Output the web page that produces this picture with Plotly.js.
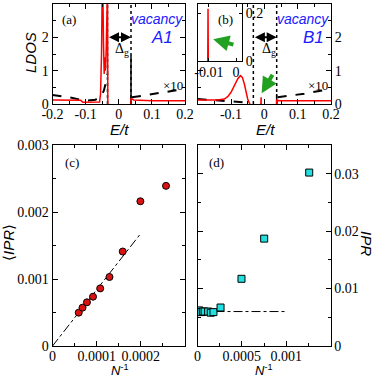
<!DOCTYPE html>
<html><head><meta charset="utf-8">
<script src="https://cdn.plot.ly/plotly-3.0.1.min.js"></script>
<style>html,body{margin:0;padding:0;background:#fff}#plot{width:374px;height:380px}</style>
</head><body><div id="plot"></div>
<script>
// ---------- data ----------
// panel (a): vacancy A1
const redA_E = [-0.2, -0.15, -0.115, -0.108, -0.1, -0.07, -0.058, -0.055, -0.052, -0.05, -0.048, -0.046, -0.044, -0.042, -0.04, -0.038, -0.036, -0.034, -0.033, null, 0.037, 0.037, 0.045, 0.1, 0.2];
const redA_L = [0.12, 0.12, 0.11, 0.05, 0.05, 0.05, 0.06, 0.3, 1.5, 3.5, 3.5, 1.8, 0.9, 1.4, 1.0, 1.6, 3.5, 3.5, 0, null, 0, 0.17, 0.12, 0.1, 0.1];
const dashA_E = [-0.2, -0.15, -0.1, -0.07, -0.055, -0.045, -0.04, -0.036, -0.034, null, 0.04, 0.08, 0.12, 0.16, 0.2];
const dashA_L = [0.27, 0.2, 0.1, 0.13, 0.22, 0.4, 0.6, 0.8, 0.9, null, 0.2, 0.27, 0.33, 0.39, 0.45];
const peakA_E = [0.037, 0.037];
const peakA_L = [0, 1.45];
const gapA = [-0.034, 0.037];
// panel (b): vacancy B1
const redB_E = [-0.2, -0.14, -0.12, -0.11, -0.1, -0.09, -0.08, -0.072, -0.066, -0.06, -0.055, -0.05, -0.046, -0.043, null, -0.0104, -0.0103, -0.0096, -0.0095, null, 0.037, 0.037, 0.045, 0.1, 0.2];
const redB_L = [0.12, 0.12, 0.15, 0.22, 0.35, 0.55, 0.75, 0.85, 0.8, 0.6, 0.35, 0.15, 0.05, 0, null, 0, 0.2, 0.2, 0, null, 0, 0.12, 0.1, 0.1, 0.1];
const dashB_E = [-0.2, -0.15, -0.1, -0.06, -0.04, null, 0.04, 0.08, 0.12, 0.16, 0.2];
const dashB_L = [0.15, 0.12, 0.08, 0.05, 0.02, null, 0.2, 0.25, 0.31, 0.38, 0.45];
const peakB_E = [0.037, 0.037];
const peakB_L = [0, 0.3];
const gapB = [-0.033, 0.037];
// inset of (b)
const inset_E = [-0.0104, -0.0103, -0.0102];
const inset_L = [0, 0.22, 0];
// panel (c): <IPR> vs 1/N
const invN_c = [5.94e-5, 6.8e-5, 7.8e-5, 9.17e-5, 1.08e-4, 1.29e-4, 1.59e-4, 1.99e-4, 2.57e-4];
const ipr_c = [0.000498, 0.000572, 0.000652, 0.000736, 0.00086, 0.00103, 0.00141, 0.00216, 0.00239];
const fit_c_x = [0, 0.0002];
const fit_c_y = [0, 0.00168];
// panel (d): IPR vs 1/N
const invN_d = [0.00002, 0.00004, 0.00006, 0.00008, 0.00012, 0.00015, 0.00018, 0.00026, 0.000496, 0.000752, 0.00126];
const ipr_d = [0.0062, 0.0059, 0.006, 0.006, 0.006, 0.0058, 0.0059, 0.0067, 0.0117, 0.0187, 0.0302];
const fit_d_x = [0, 0.001];
const fit_d_y = [0.006, 0.006];
// tick labels
const ldosTicks = [0, 1, 2, 3];
const eTicksA = [-0.2, -0.1, 0, 0.1, 0.2];
const eTextA = ['-0.2', '-0.1', '0', '0.1', '0.2'];
const eTicksB = [-0.1, 0, 0.1, 0.2];
const eTextB = ['-0.1', '0', '0.1', '0.2'];
const insetXTicks = [-0.01, 0];
const insetXText = ['-0.01', '0'];
const insetYTicks = [0, 0.2];
const cXTicks = [0, 0.0001, 0.0002];
const cXText = ['0', '0.0001', '0.0002'];
const cYTicks = [0, 0.001, 0.002, 0.003];
const cYText = ['0', '0.001', '0.002', '0.003'];
const dXTicks = [0, 0.0005, 0.001];
const dXText = ['0', '0.0005', '0.001'];
const dYTicks = [0, 0.01, 0.02, 0.03];
const dYText = ['0', '0.01', '0.02', '0.03'];

// ---------- helpers ----------
const W = 374, H = 380;
const px = v => v / W;
const py = v => 1 - v / H;
const SERIF = 'Liberation Serif, Times New Roman, Times, serif';
const tf = {family: SERIF, size: 14, color: 'black'};
function axis(o) {
  return Object.assign({
    showline: true, linecolor: 'black', linewidth: 1, mirror: 'ticks',
    ticks: 'inside', ticklen: 5, tickcolor: 'black', tickwidth: 1,
    showgrid: false, zeroline: false, tickfont: tf, fixedrange: true
  }, o);
}
const RED = '#ff0000';
const traces = [
  // (a)
  {x: gapA.flatMap(e => [e, e, null]), y: gapA.flatMap(() => [0, 3, null]), xaxis: 'x', yaxis: 'y', mode: 'lines', line: {color: 'black', width: 1.5, dash: 'dot'}},
  {x: dashA_E, y: dashA_L, xaxis: 'x', yaxis: 'y', mode: 'lines', line: {color: 'black', width: 2, dash: 'dash'}},
  {x: peakA_E, y: peakA_L, xaxis: 'x', yaxis: 'y', mode: 'lines', line: {color: 'black', width: 1.5}},
  {x: redA_E, y: redA_L, xaxis: 'x', yaxis: 'y', mode: 'lines', line: {color: RED, width: 1.5}},
  // (b)
  {x: gapB.flatMap(e => [e, e, null]), y: gapB.flatMap(() => [0, 3, null]), xaxis: 'x2', yaxis: 'y2', mode: 'lines', line: {color: 'black', width: 1.5, dash: 'dot'}},
  {x: dashB_E, y: dashB_L, xaxis: 'x2', yaxis: 'y2', mode: 'lines', line: {color: 'black', width: 2, dash: 'dash'}},
  {x: peakB_E, y: peakB_L, xaxis: 'x2', yaxis: 'y2', mode: 'lines', line: {color: 'black', width: 1.5}},
  {x: redB_E, y: redB_L, xaxis: 'x2', yaxis: 'y2', mode: 'lines', line: {color: RED, width: 1.5}},
  // inset
  {x: inset_E, y: inset_L, xaxis: 'x5', yaxis: 'y5', mode: 'lines', line: {color: RED, width: 1.5}},
  // (c)
  {x: fit_c_x, y: fit_c_y, xaxis: 'x3', yaxis: 'y3', mode: 'lines', line: {color: 'black', width: 1, dash: 'dashdot'}},
  {x: invN_c, y: ipr_c, xaxis: 'x3', yaxis: 'y3', mode: 'markers', marker: {color: '#dd1111', size: 7, line: {color: 'black', width: 1}}},
  // (d)
  {x: fit_d_x, y: fit_d_y, xaxis: 'x4', yaxis: 'y4', mode: 'lines', line: {color: 'black', width: 1, dash: 'dashdot'}},
  {x: invN_d, y: ipr_d, xaxis: 'x4', yaxis: 'y4', mode: 'markers', marker: {color: '#22e0e0', size: 7, symbol: 'square', line: {color: 'black', width: 1}}}
];

const ann = [];
function txt(x, y, text, font, extra) { ann.push(Object.assign({xref: 'paper', yref: 'paper', x: px(x), y: py(y), text, showarrow: false, font, xanchor: 'center', yanchor: 'middle'}, extra || {})); }
const serif13 = {family: SERIF, size: 13, color: 'black'};
const sansIt = {family: 'Liberation Sans', size: 15, color: 'black'};
const blue = '#2020ff';
txt(69, 20, '(a)', serif13);
txt(225, 20, '(b)', serif13);
txt(72, 162, '(c)', serif13);
txt(216, 162, '(d)', serif13);
txt(157, 19, '<i>vacancy</i>', {family: 'Liberation Sans', size: 14, color: blue});
txt(162, 38, '<i>A1</i>', {family: 'Liberation Sans', size: 17, color: blue});
txt(303, 19, '<i>vacancy</i>', {family: 'Liberation Sans', size: 14, color: blue});
txt(313, 38, '<i>B1</i>', {family: 'Liberation Sans', size: 17, color: blue});
txt(173, 85, '×10', serif13);
txt(318, 85, '×10', serif13);
txt(31, 53, '<i>LDOS</i>', sansIt, {textangle: -90});
txt(119, 130, '<i>E/t</i>', sansIt);
txt(265, 130, '<i>E/t</i>', sansIt);
txt(8, 243, '⟨<i>IPR</i>⟩', sansIt, {textangle: -90});
txt(367, 243, '<i>IPR</i>', sansIt, {textangle: 90});
txt(119, 380, '<i>N</i><sup>-1</sup>', {family: 'Liberation Sans', size: 13, color: 'black'}, {yanchor: 'bottom'});
txt(263, 380, '<i>N</i><sup>-1</sup>', {family: 'Liberation Sans', size: 13, color: 'black'}, {yanchor: 'bottom'});
// gap arrows & labels
ann.push({xref: 'x', yref: 'y', axref: 'x', ayref: 'y', x: gapA[1], y: 2, ax: gapA[0], ay: 2, text: '', showarrow: true, arrowside: 'end+start', arrowhead: 2, arrowsize: 1, arrowwidth: 2, arrowcolor: 'black'});
ann.push({xref: 'x2', yref: 'y2', axref: 'x2', ayref: 'y2', x: gapB[1], y: 2, ax: gapB[0], ay: 2, text: '', showarrow: true, arrowside: 'end+start', arrowhead: 2, arrowsize: 1, arrowwidth: 2, arrowcolor: 'black'});
ann.push({xref: 'x', yref: 'y', x: 0.009, y: 1.65, text: 'Δ<sub>g</sub>', showarrow: false, font: tf});
ann.push({xref: 'x2', yref: 'y2', x: 0.0126, y: 1.65, text: 'Δ<sub>g</sub>', showarrow: false, font: tf});
// green arrows
const GREEN = '#22a022';
ann.push({xref: 'x2', yref: 'y2', axref: 'x2', ayref: 'y2', x: -0.008, y: 0.32, ax: 0.027, ay: 0.92, text: '', showarrow: true, arrowhead: 2, arrowsize: 0.8, arrowwidth: 4, arrowcolor: GREEN});
ann.push({xref: 'x5', yref: 'y5', axref: 'x5', ayref: 'y5', x: -0.0084, y: 0.092, ax: -0.0004, ay: 0.0675, text: '', showarrow: true, arrowhead: 2, arrowsize: 0.8, arrowwidth: 4, arrowcolor: GREEN});

const xs = -3;
const layout = {
  width: W, height: H, margin: {l: 0, r: 0, t: 0, b: 0},
  paper_bgcolor: 'white', plot_bgcolor: 'white', showlegend: false,
  xaxis: axis({domain: [px(52.5), px(185)], range: [-0.2, 0.2], anchor: 'y', ticklabelstandoff: xs, tickvals: eTicksA, ticktext: eTextA, minor: {ticks: 'inside', ticklen: 3, dtick: 0.05, tick0: 0, tickcolor: 'black'}}),
  yaxis: axis({domain: [py(104), py(4)], range: [0, 3], anchor: 'x', tickvals: ldosTicks, minor: {ticks: 'inside', ticklen: 3, dtick: 0.5, tick0: 0, tickcolor: 'black'}}),
  xaxis2: axis({domain: [px(197.7), px(331)], range: [-0.2, 0.2], anchor: 'y2', ticklabelstandoff: xs, tickvals: eTicksB, ticktext: eTextB, minor: {ticks: 'inside', ticklen: 3, dtick: 0.05, tick0: 0, tickcolor: 'black'}}),
  yaxis2: axis({domain: [py(104), py(4)], range: [0, 3], anchor: 'x2', side: 'right', tickvals: ldosTicks, minor: {ticks: 'inside', ticklen: 3, dtick: 0.5, tick0: 0, tickcolor: 'black'}}),
  xaxis3: axis({domain: [px(52.5), px(185)], range: [0, 0.0003], anchor: 'y3', ticklabelstandoff: xs, tickvals: cXTicks, ticktext: cXText, minor: {ticks: 'inside', ticklen: 3, dtick: 0.00005, tick0: 0, tickcolor: 'black'}}),
  yaxis3: axis({domain: [py(346), py(145)], range: [0, 0.003], anchor: 'x3', tickvals: cYTicks, ticktext: cYText, minor: {ticks: 'inside', ticklen: 3, dtick: 0.0005, tick0: 0, tickcolor: 'black'}}),
  xaxis4: axis({domain: [px(197.5), px(330.5)], range: [0, 0.0015], anchor: 'y4', ticklabelstandoff: xs, tickvals: dXTicks, ticktext: dXText, minor: {ticks: 'inside', ticklen: 3, dtick: 0.00025, tick0: 0, tickcolor: 'black'}}),
  yaxis4: axis({domain: [py(346), py(145)], range: [0, 0.035], anchor: 'x4', side: 'right', tickvals: dYTicks, ticktext: dYText, minor: {ticks: 'inside', ticklen: 3, dtick: 0.005, tick0: 0, tickcolor: 'black'}}),
  xaxis5: axis({domain: [px(197.7), px(242)], range: [-0.0141, 0.0022], anchor: 'y5', ticklabelstandoff: -2, tickvals: insetXTicks, ticktext: insetXText, ticklen: 3}),
  yaxis5: axis({domain: [py(61), py(4)], range: [0, 0.24], anchor: 'x5', side: 'right', tickvals: insetYTicks, ticklen: 3}),
  annotations: ann
};
Plotly.newPlot('plot', traces, layout, {displayModeBar: false, staticPlot: true});
</script></body></html>
